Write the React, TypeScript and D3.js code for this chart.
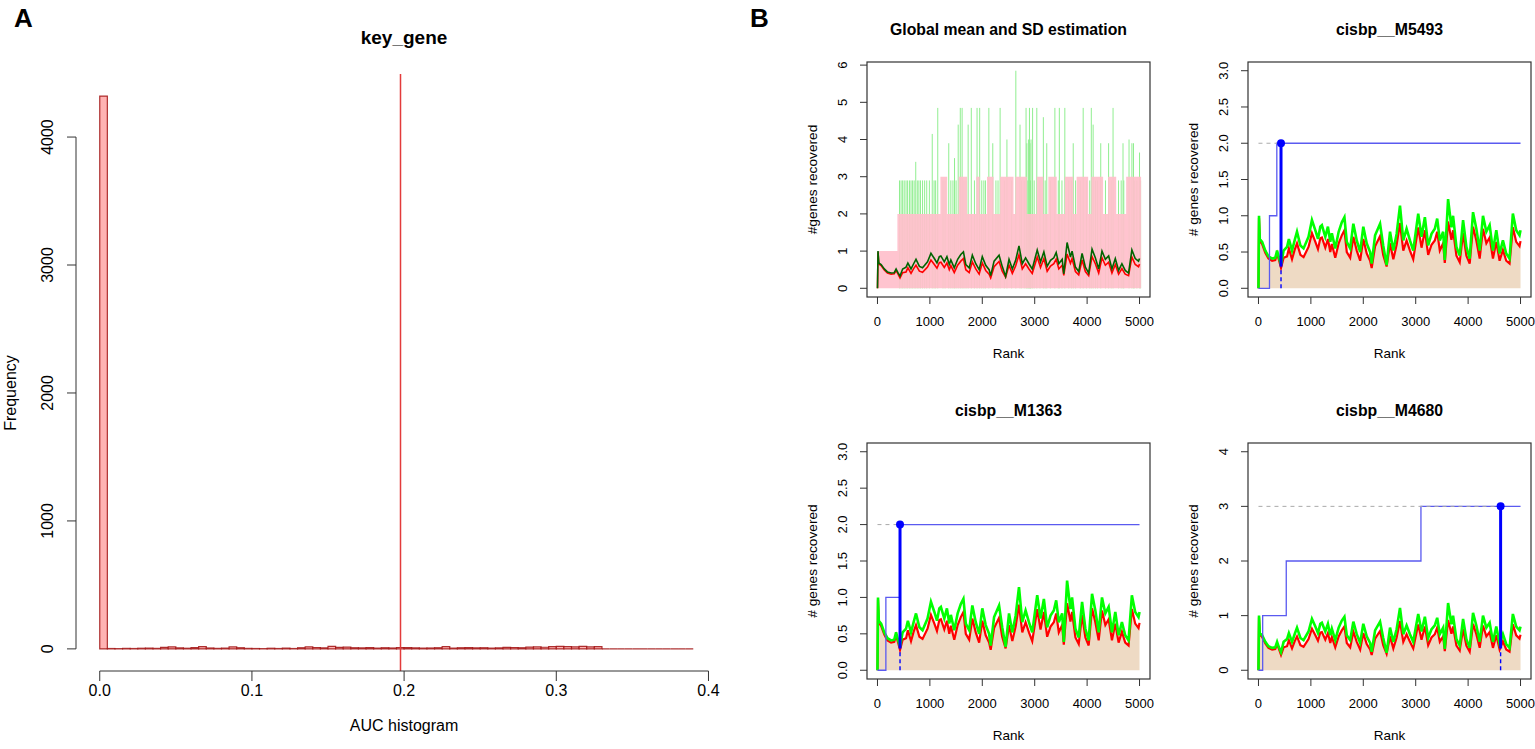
import React from 'react';
import * as d3 from 'd3';

// ---------- data: panel A (AUC histogram) ----------
const aucBinWidth = 0.005;
const aucCounts = [
  4320, 3, 2, 4, 3, 5, 6, 4, 12, 16, 8, 5, 10, 18, 7, 4, 6, 15, 9, 4,
  3, 2, 5, 3, 6, 3, 9, 16, 11, 8, 20, 12, 14, 9, 8, 10, 6, 9, 7, 11,
  10, 8, 6, 7, 9, 18, 6, 9, 10, 8, 9, 6, 8, 12, 11, 9, 14, 15, 13, 18,
  20, 17, 16, 19, 15, 17, 0, 0, 0, 0, 0, 0, 0, 0, 0, 0, 0, 0,
];
const aucThreshold = 0.197;
const histXTicks = [0, 0.1, 0.2, 0.3, 0.4];
const histYTicks = [0, 1000, 2000, 3000, 4000];

// ---------- data: panel B (recovery curves) ----------
const curveRanks = [
  0, 10, 25, 70, 130, 190, 260, 320, 355, 390, 430, 480, 545, 580, 640, 690, 735, 800, 860, 955,
  1020, 1085, 1135, 1180, 1210, 1275, 1325, 1370, 1400, 1465, 1530, 1590, 1640, 1685, 1750, 1810, 1875, 1940, 2000, 2065,
  2130, 2160, 2225, 2320, 2380, 2445, 2510, 2573, 2636, 2700, 2763, 2826, 2890, 2953, 3048, 3111, 3175, 3238, 3302, 3365,
  3410, 3460, 3524, 3555, 3618, 3682, 3713, 3777, 3840, 3904, 3967, 4030, 4094, 4157, 4221, 4284, 4348, 4411, 4474, 4538,
  4601, 4664, 4727, 4791, 4854, 4918, 4981, 5000,
];
// global mean of recovered genes per rank
const meanValues = [
  0, 0.97, 0.65, 0.61, 0.49, 0.41, 0.38, 0.39, 0.48, 0.39, 0.28, 0.42, 0.44, 0.55, 0.40, 0.53, 0.62, 0.46, 0.43, 0.57,
  0.76, 0.64, 0.54, 0.69, 0.70, 0.56, 0.68, 0.50, 0.61, 0.42, 0.62, 0.73, 0.80, 0.50, 0.42, 0.71, 0.52, 0.38, 0.68, 0.48,
  0.38, 0.28, 0.58, 0.72, 0.46, 0.30, 0.62, 0.40, 0.60, 0.90, 0.52, 0.66, 0.52, 0.40, 0.84, 0.56, 0.80, 0.46, 0.60, 0.66,
  0.78, 0.52, 0.62, 0.35, 0.92, 0.67, 0.80, 0.45, 0.36, 0.76, 0.45, 0.34, 0.85, 0.66, 0.41, 0.82, 0.62, 0.70, 0.41, 0.64,
  0.38, 0.53, 0.38, 0.34, 0.84, 0.64, 0.58, 0.65,
];
// mean + SD
const upperValues = [
  0, 1.0, 0.68, 0.64, 0.52, 0.44, 0.41, 0.42, 0.52, 0.42, 0.33, 0.52, 0.57, 0.68, 0.52, 0.66, 0.78, 0.59, 0.55, 0.71,
  0.94, 0.80, 0.68, 0.85, 0.87, 0.71, 0.85, 0.64, 0.76, 0.55, 0.78, 0.91, 0.98, 0.64, 0.55, 0.89, 0.66, 0.50, 0.85, 0.62,
  0.50, 0.34, 0.73, 0.89, 0.59, 0.32, 0.78, 0.52, 0.75, 1.14, 0.66, 0.82, 0.66, 0.52, 1.03, 0.71, 0.98, 0.59, 0.75, 0.82,
  0.96, 0.66, 0.78, 0.39, 1.23, 0.84, 1.0, 0.57, 0.45, 0.94, 0.57, 0.41, 1.05, 0.82, 0.52, 1.0, 0.78, 0.87, 0.52, 0.80,
  0.48, 0.66, 0.48, 0.41, 1.03, 0.80, 0.73, 0.80,
];
// maximum recovered per rank (pink steps)
const maxRanks = [0, 380, 1200, 1330, 1550, 1710, 1885, 1950, 2090, 2215, 2340, 2595, 2630, 2850, 3040, 3165, 3260, 3420, 3575, 3735, 3800, 4020, 4080, 4305, 4400, 4555, 4745, 5030];
const maxLevels = [1, 2, 3, 2, 3, 2, 3, 2, 3, 2, 3, 2, 3, 2, 3, 2, 3, 2, 3, 2, 3, 2, 3, 2, 3, 2, 3, 3];
// light green spikes in the global plot
const spikeRanks = [
  420, 450, 480, 510, 545, 575, 610, 640, 670, 700, 760, 790, 820, 860, 900, 940, 990, 1080, 1110, 1250,
  1290, 1400, 1440, 1500, 1650, 1690, 1850, 1990, 2030, 2060, 2260, 2300, 2420, 2560, 2750, 2800, 2870, 2920, 2990, 3100,
  3200, 3300, 3450, 3520, 3650, 3700, 3780, 3870, 3990, 4050, 4160, 4200, 4350, 4460, 4600, 4650, 4700, 4900, 4950, 5020,
  730, 1045, 1150, 1360, 1470, 1540, 1580, 1615, 1730, 1790, 1900, 1950, 2125, 2200, 2340, 2470, 2640, 2720, 2835, 2850,
  2880, 2900, 2910, 2930, 2960, 3040, 3165, 3230, 3385, 3470, 3575, 3735, 3925, 4080, 4115, 4260, 4410, 4495, 4685, 4800,
  4855, 4885, 5000,
];
const spikeHeights = [
  2.9, 2.9, 2.9, 2.9, 2.9, 2.9, 2.9, 2.9, 2.9, 2.9, 2.9, 2.9, 2.9, 2.9, 2.9, 2.9, 2.9, 2.9, 2.9, 2.9,
  2.9, 2.9, 2.9, 2.9, 2.9, 2.9, 2.9, 2.9, 2.9, 2.9, 2.9, 2.9, 2.9, 2.9, 2.9, 2.9, 2.9, 2.9, 2.9, 2.9,
  2.9, 2.9, 2.9, 2.9, 2.9, 2.9, 2.9, 2.9, 2.9, 2.9, 2.9, 2.9, 2.9, 2.9, 2.9, 2.9, 2.9, 2.9, 2.9, 2.9,
  3.4, 4.15, 4.85, 3.9, 3.5, 4.4, 4.85, 4.85, 4.4, 4.85, 4.85, 4.85, 4.85, 3.9, 4.85, 4.0, 5.85, 4.4, 4.85, 3.9,
  4.0, 4.85, 3.9, 4.0, 4.85, 4.85, 4.6, 3.9, 4.85, 4.85, 4.85, 3.9, 4.85, 4.85, 4.4, 3.9, 3.9, 4.85, 3.9, 4.0,
  3.9, 3.9, 3.65,
];

// motif recovery curves (step change points)
const m5493Ranks = [0, 210, 350, 5000];
const m5493Values = [0, 1, 2, 2];
const m1363Ranks = [0, 160, 430, 5000];
const m1363Values = [0, 1, 2, 2];
const m4680Ranks = [0, 80, 530, 3100, 5000];
const m4680Values = [0, 1, 2, 3, 3];
// best rank, recovered genes there, background (mean+SD) at that rank
const m5493Best = [430, 2, 0.3];
const m1363Best = [430, 2, 0.3];
const m4680Best = [4620, 3, 0.4];

const xTicksRank = [0, 1000, 2000, 3000, 4000, 5000];

const FONT = "'Liberation Sans', Arial, Helvetica, sans-serif";
const AXIS = '#333';

// R style 4% range extension
const ext = (lo: number, hi: number) => [lo - 0.04 * (hi - lo), hi + 0.04 * (hi - lo)];

function HistPanel() {
  const x = d3.scaleLinear().domain(ext(0, aucCounts.length * aucBinWidth)).range([76, 717]);
  const y = d3.scaleLinear().domain(ext(0, d3.max(aucCounts) as number)).range([671, 74]);
  const bin = (c: number, i: number) => {
    const x0 = x(i * aucBinWidth), x1 = x((i + 1) * aucBinWidth);
    return `M${x0},${y(0)}V${y(c)}H${x1}V${y(0)}Z`;
  };
  return (
    <g fontFamily={FONT}>
      <text x={14} y={27} fontSize={26} fontWeight="bold">A</text>
      <text x={404} y={44} fontSize={19} fontWeight="bold" textAnchor="middle">key_gene</text>
      {aucCounts.map((c, i) => (
        <path key={i} d={bin(c, i)} fill="#FFB3B3" stroke="#A01010" strokeWidth={1.2} strokeOpacity={0.85} />
      ))}
      <line x1={Math.round(x(aucThreshold)) + 0.5} x2={Math.round(x(aucThreshold)) + 0.5} y1={74} y2={671} stroke="#E33B3B" strokeWidth={1.5} />
      {/* y axis */}
      <line x1={76} x2={76} y1={y(histYTicks[0])} y2={y(histYTicks[histYTicks.length - 1])} stroke={AXIS} />
      {histYTicks.map((t) => (
        <g key={t}>
          <line x1={76} x2={67} y1={y(t)} y2={y(t)} stroke={AXIS} />
          <text transform={`translate(53,${y(t)}) rotate(-90)`} fontSize={16} textAnchor="middle">{t}</text>
        </g>
      ))}
      {/* x axis */}
      <line x1={x(0)} x2={x(0.4)} y1={671} y2={671} stroke={AXIS} />
      {histXTicks.map((t) => (
        <g key={t}>
          <line x1={x(t)} x2={x(t)} y1={671} y2={681} stroke={AXIS} />
          <text x={x(t)} y={696} fontSize={16} textAnchor="middle">{t.toFixed(1)}</text>
        </g>
      ))}
      <text x={404} y={731} fontSize={16} textAnchor="middle">AUC histogram</text>
      <text transform="translate(16,393) rotate(-90)" fontSize={16} textAnchor="middle">Frequency</text>
    </g>
  );
}

type Box = { l: number; r: number; t: number; b: number };

function Frame({ box, title, yLabel, yMax, yTicks, yFmt, children }: any) {
  const { l, r, t, b } = box as Box;
  const x = d3.scaleLinear().domain(ext(0, 5000)).range([l, r]);
  const y = d3.scaleLinear().domain(ext(0, yMax)).range([b, t]);
  return (
    <g fontFamily={FONT}>
      {children(x, y)}
      <rect x={l} y={t} width={r - l} height={b - t} fill="none" stroke={AXIS} strokeWidth={1.2} />
      <text x={(l + r) / 2} y={t - 27} fontSize={15.8} fontWeight="bold" textAnchor="middle">{title}</text>
      {xTicksRank.map((v) => (
        <g key={v}>
          <line x1={x(v)} x2={x(v)} y1={b} y2={b + 7} stroke={AXIS} />
          <text x={x(v)} y={b + 29} fontSize={13} textAnchor="middle">{v}</text>
        </g>
      ))}
      <text x={(l + r) / 2} y={b + 61} fontSize={13.5} textAnchor="middle">Rank</text>
      {yTicks.map((v: number) => (
        <g key={v}>
          <line x1={l} x2={l - 7} y1={y(v)} y2={y(v)} stroke={AXIS} />
          <text transform={`translate(${l - 20},${y(v)}) rotate(-90)`} fontSize={13} textAnchor="middle">{yFmt(v)}</text>
        </g>
      ))}
      <text transform={`translate(${l - 50},${(t + b) / 2}) rotate(-90)`} fontSize={13.7} textAnchor="middle">{yLabel}</text>
    </g>
  );
}

function GlobalPanel({ box }: { box: Box }) {
  return (
    <Frame box={box} title="Global mean and SD estimation" yLabel="#genes recovered" yMax={d3.max(spikeHeights)}
      yTicks={[0, 1, 2, 3, 4, 5, 6]} yFmt={(v: number) => String(v)}>
      {(x: any, y: any) => {
        const pinkArea = d3.area<number>().x((_, i) => x(maxRanks[i])).y0(y(0)).y1((d) => y(d)).curve(d3.curveStepAfter);
        const line = (vals: number[]) => d3.line<number>().x((_, i) => x(curveRanks[i])).y((d) => y(d))(vals) as string;
        return (
          <g>
            {spikeRanks.map((rk, i) => (
              <line key={i} x1={x(rk)} x2={x(rk)} y1={y(0)} y2={y(spikeHeights[i])} stroke="#90EE90" strokeWidth={1} />
            ))}
            <path d={pinkArea(maxLevels) as string} fill="#FFC0CB" fillOpacity={0.93} />
            <path d={line(meanValues)} fill="none" stroke="#FF0000" strokeWidth={1.6} />
            <path d={line(upperValues)} fill="none" stroke="#006400" strokeWidth={1.6} />
          </g>
        );
      }}
    </Frame>
  );
}

function MotifPanel({ box, title, yMax, yTicks, yFmt, ranks, values, best }: any) {
  return (
    <Frame box={box} title={title} yLabel="# genes recovered" yMax={yMax} yTicks={yTicks} yFmt={yFmt}>
      {(x: any, y: any) => {
        const tan = d3.area<number>().x((_, i) => x(curveRanks[i])).y0(y(0)).y1((d) => y(d));
        const line = (vals: number[]) => d3.line<number>().x((_, i) => x(curveRanks[i])).y((d) => y(d))(vals) as string;
        const steps = d3.line<number>().x((_, i) => x(ranks[i])).y((d) => y(d)).curve(d3.curveStepAfter)(values) as string;
        const [bx, by, base] = best;
        return (
          <g>
            <path d={tan(meanValues) as string} fill="#EEDAC4" />
            <path d={line(meanValues)} fill="none" stroke="#FF0000" strokeWidth={2.2} />
            <path d={line(upperValues)} fill="none" stroke="#00FF00" strokeWidth={2.6} />
            <path d={steps} fill="none" stroke="#5A5AF0" strokeWidth={1.3} />
            <line x1={x(0)} x2={x(bx)} y1={y(by)} y2={y(by)} stroke="#AAAAAA" strokeDasharray="4,4" />
            <line x1={x(bx)} x2={x(bx)} y1={y(0)} y2={y(base)} stroke="#0000FF" strokeWidth={1.4} strokeDasharray="4,3" />
            <line x1={x(bx)} x2={x(bx)} y1={y(base)} y2={y(by)} stroke="#0000FF" strokeWidth={3} />
            <circle cx={x(bx)} cy={y(by)} r={4} fill="#0000FF" />
          </g>
        );
      }}
    </Frame>
  );
}

export default function App() {
  const top = { t: 62, b: 297 };
  const bottom = { t: 443, b: 679 };
  const left = { l: 867, r: 1150 };
  const right = { l: 1248, r: 1531 };
  const half = (v: number) => v.toFixed(1);
  return (
    <svg width={1535} height={749} style={{ position: 'absolute', left: 0, top: 0, background: '#fff' }}>
      <rect width={1535} height={749} fill="#fff" />
      <HistPanel />
      <text x={750} y={27} fontSize={26} fontWeight="bold" fontFamily={FONT}>B</text>
      <GlobalPanel box={{ ...left, ...top }} />
      <MotifPanel box={{ ...right, ...top }} title="cisbp__M5493" yMax={3} yTicks={[0, 0.5, 1, 1.5, 2, 2.5, 3]} yFmt={half}
        ranks={m5493Ranks} values={m5493Values} best={m5493Best} />
      <MotifPanel box={{ ...left, ...bottom }} title="cisbp__M1363" yMax={3} yTicks={[0, 0.5, 1, 1.5, 2, 2.5, 3]} yFmt={half}
        ranks={m1363Ranks} values={m1363Values} best={m1363Best} />
      <MotifPanel box={{ ...right, ...bottom }} title="cisbp__M4680" yMax={4} yTicks={[0, 1, 2, 3, 4]} yFmt={(v: number) => String(v)}
        ranks={m4680Ranks} values={m4680Values} best={m4680Best} />
    </svg>
  );
}
